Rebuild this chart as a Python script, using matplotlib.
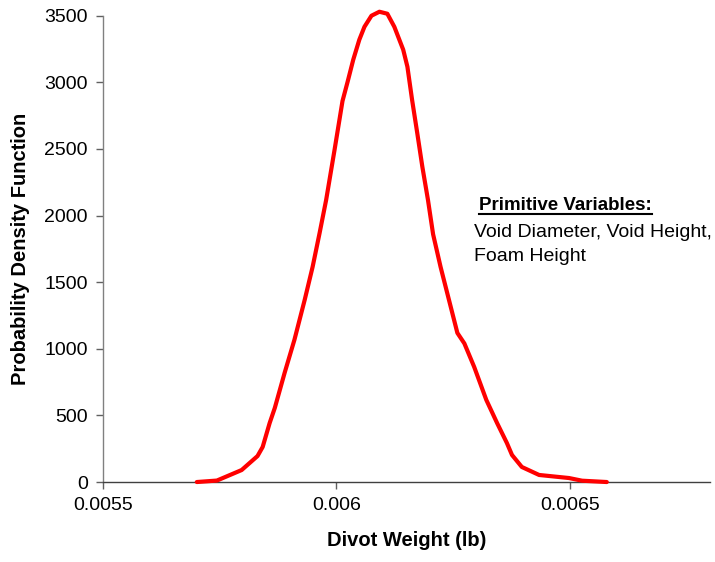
import matplotlib
matplotlib.use("Agg")
import matplotlib.pyplot as plt
from matplotlib.lines import Line2D

plt.rcParams['font.family'] = ['Liberation Sans', 'DejaVu Sans']

# Divot weight (lb) and estimated probability density
weight = [0.005701, 0.005744, 0.005797, 0.005831, 0.005842, 0.005857, 0.005868,
          0.005889, 0.005910, 0.005932, 0.005949, 0.005964, 0.005978, 0.005996,
          0.006013, 0.006024, 0.006036, 0.006049, 0.006060, 0.006075, 0.006092,
          0.006109, 0.006124, 0.006143, 0.006152, 0.006162, 0.006173, 0.006184,
          0.006196, 0.006207, 0.006223, 0.006241, 0.006259, 0.006274, 0.006295,
          0.006321, 0.006331, 0.006344, 0.006365, 0.006376, 0.006397, 0.006434,
          0.006498, 0.006526, 0.006579]
density = [0, 11, 90, 195, 263, 443, 556,
           819, 1067, 1367, 1615, 1870, 2118, 2494,
           2860, 3005, 3170, 3320, 3417, 3500, 3530,
           3515, 3417, 3245, 3117, 2869, 2621, 2366,
           2118, 1860, 1615, 1367, 1119, 1040, 864,
           616, 541, 443, 293, 203, 113, 53,
           30, 10, 0]

x_ticks = [0.0055, 0.006, 0.0065]
x_tick_labels = ["0.0055", "0.006", "0.0065"]
y_ticks = [0, 500, 1000, 1500, 2000, 2500, 3000, 3500]

fig = plt.figure(figsize=(7.15, 5.62), dpi=100)
ax = fig.add_axes([0.144, 0.1423, 0.849, 0.8297])

ax.plot(weight, density, color='#FF0000', linewidth=3.0, solid_joinstyle='round',
        solid_capstyle='round', clip_on=False, zorder=3)

ax.set_xlim(0.0055, 0.0068)
ax.set_ylim(0, 3500)
ax.set_xticks(x_ticks)
ax.set_xticklabels(x_tick_labels)
ax.set_yticks(y_ticks)

for side in ('top', 'right'):
    ax.spines[side].set_visible(False)
for side in ('left', 'bottom'):
    ax.spines[side].set_color('#808080')
    ax.spines[side].set_linewidth(1.0)
ax.spines['bottom'].set_color('#404040')

ax.tick_params(axis='both', direction='out', length=5, width=1, color='#606060',
               labelsize=14, pad=6)

ax.set_xlabel("Divot Weight (lb)", fontsize=14.5, fontweight='bold', labelpad=12)
ax.set_ylabel("Probability Density Function", fontsize=14.5, fontweight='bold', labelpad=10)

# Annotation box with underlined heading
title = fig.text(479 / 715, 1 - 210 / 562, "Primitive Variables:", fontsize=13.5,
                 fontweight='bold', ha='left', va='baseline')
fig.text(474 / 715, 1 - 237 / 562, "Void Diameter, Void Height,", fontsize=14.0,
         ha='left', va='baseline')
fig.text(474 / 715, 1 - 261 / 562, "Foam Height", fontsize=14.0,
         ha='left', va='baseline')

fig.canvas.draw()
bb = title.get_window_extent().transformed(fig.transFigure.inverted())
y_ul = 1 - 213.5 / 562
fig.add_artist(Line2D([bb.x0, bb.x1], [y_ul, y_ul], transform=fig.transFigure,
                      color='black', linewidth=1.5))

fig.savefig("out.png", dpi=100)
